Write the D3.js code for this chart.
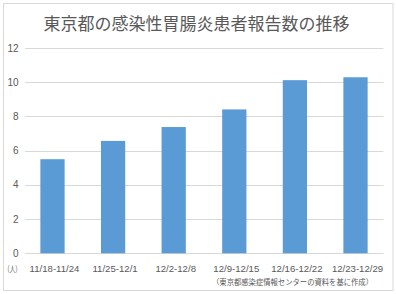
<!DOCTYPE html>
<html>
<head>
<meta charset="utf-8">
<script src="https://cdn.jsdelivr.net/npm/d3@7"></script>
<style>
  body { margin: 0; background: #fff; }
  text { fill: #595959; }
</style>
</head>
<body>
<div id="chart"></div>
<script>
var width = 396;
var height = 294;

var weeks = ["11/18-11/24", "11/25-12/1", "12/2-12/8", "12/9-12/15", "12/16-12/22", "12/23-12/29"];
var patients = [5.5, 6.57, 7.38, 8.41, 10.12, 10.29];
var yTicks = [0, 2, 4, 6, 8, 10, 12];

var svg = d3
  .select("#chart")
  .append("svg")
  .attr("width", width)
  .attr("height", height);

// outer frame
svg.append("rect")
  .attr("x", 3.5)
  .attr("y", 3.5)
  .attr("width", 389.5)
  .attr("height", 287)
  .attr("fill", "#fff")
  .attr("stroke", "#d9d9d9");

var x = d3.scaleBand().domain(weeks).range([22.2, 385.8]).paddingInner(0.6).paddingOuter(0.3);
var y = d3.scaleLinear().domain([0, 12]).range([253.3, 48]);

// grid lines
svg.append("g")
  .selectAll("line")
  .data(yTicks)
  .enter()
  .append("line")
  .attr("x1", 25)
  .attr("x2", 383.5)
  .attr("y1", function(d) { return Math.round(y(d)) + 0.5; })
  .attr("y2", function(d) { return Math.round(y(d)) + 0.5; })
  .attr("stroke", "#d9d9d9");

// y labels
svg.append("g")
  .selectAll("text")
  .data(yTicks)
  .enter()
  .append("text")
  .attr("x", 18.5)
  .attr("y", function(d) { return y(d); })
  .attr("dy", "0.35em")
  .attr("text-anchor", "end")
  .style("font", "10px 'Liberation Sans', sans-serif")
  .text(function(d) { return d; });

// bars
svg.append("g")
  .selectAll("rect")
  .data(patients)
  .enter()
  .append("rect")
  .attr("x", function(d, i) { return x(weeks[i]); })
  .attr("y", function(d) { return y(d); })
  .attr("width", x.bandwidth())
  .attr("height", function(d) { return y(0) - y(d); })
  .attr("fill", "#5b9bd5");

// x labels
svg.append("g")
  .selectAll("text")
  .data(weeks)
  .enter()
  .append("text")
  .attr("x", function(d) { return x(d) + x.bandwidth() / 2 + 2; })
  .attr("y", 272)
  .attr("text-anchor", "middle")
  .style("font", "9.6px 'Liberation Sans', sans-serif")
  .text(function(d) { return d; });

svg.append("text")
  .attr("x", 4)
  .attr("y", 272)
  .attr("textLength", 17)
  .attr("lengthAdjust", "spacingAndGlyphs")
  .style("font", "8.5px 'Noto Sans CJK JP', sans-serif")
  .text("（人）");

// title
svg.append("text")
  .attr("x", 196.5)
  .attr("y", 30)
  .attr("text-anchor", "middle")
  .style("font", "17px 'Noto Sans CJK JP', sans-serif")
  .text("東京都の感染性胃腸炎患者報告数の推移");

// source
svg.append("text")
  .attr("x", 373)
  .attr("y", 284.5)
  .attr("text-anchor", "end")
  .attr("textLength", 161)
  .attr("lengthAdjust", "spacingAndGlyphs")
  .style("font", "7.5px 'Noto Sans CJK JP', sans-serif")
  .text("（東京都感染症情報センターの資料を基に作成）");
</script>
</body>
</html>
